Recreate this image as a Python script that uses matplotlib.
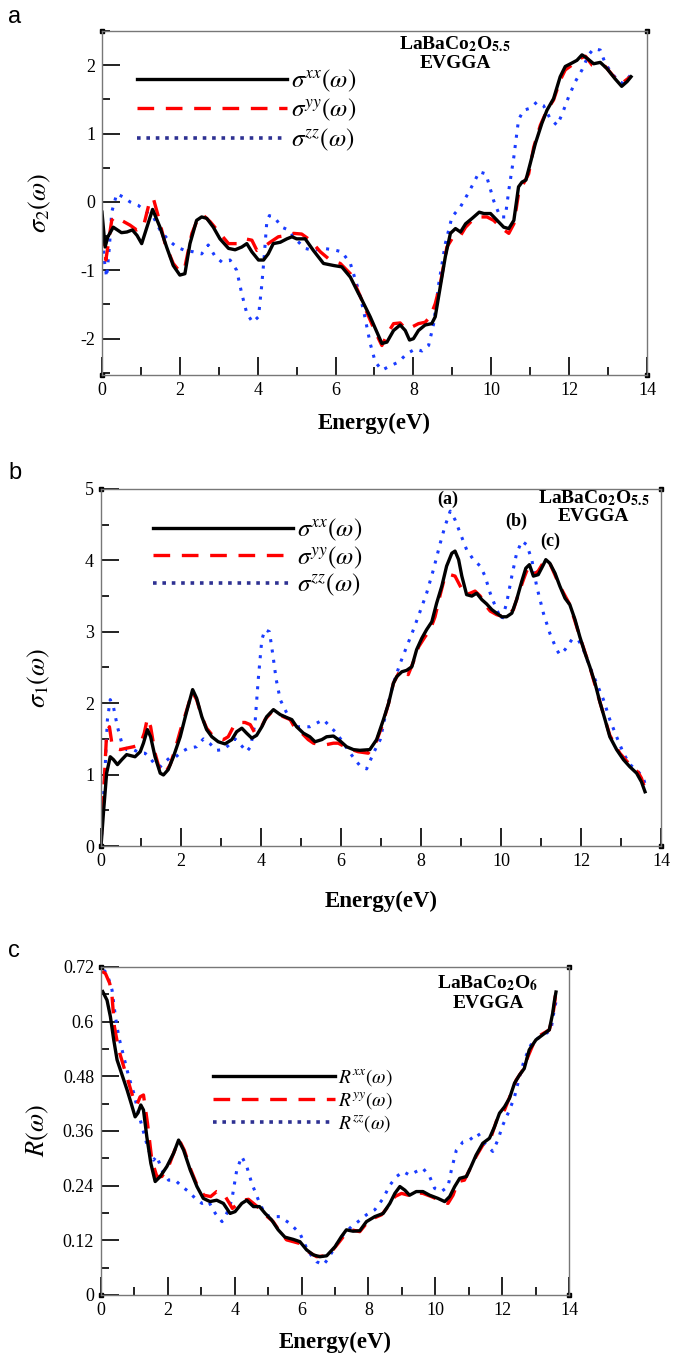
import matplotlib
matplotlib.use("Agg")
import matplotlib.pyplot as plt
from matplotlib.lines import Line2D
from matplotlib.ticker import MultipleLocator

plt.rcParams['font.family'] = ['Liberation Serif', 'DejaVu Serif']
plt.rcParams['mathtext.fontset'] = 'stix'
plt.rcParams['axes.unicode_minus'] = False

# ---------------- panel a : sigma_2 ----------------
a_xx_e = [0.0, 0.08, 0.15, 0.29, 0.5, 0.64, 0.78, 0.9, 1.02, 1.3, 1.49, 1.66, 1.83, 2.0, 2.13, 2.26, 2.43, 2.56,
          2.69, 2.86, 3.03, 3.25, 3.42, 3.59, 3.72, 3.85, 4.02, 4.15, 4.27, 4.4, 4.58, 4.75, 4.88, 5.0, 5.22,
          5.43, 5.69, 5.95, 6.16, 6.38, 6.59, 6.63, 6.89, 7.19, 7.32, 7.49, 7.66, 7.79, 7.9, 8.0, 8.13, 8.3,
          8.47, 8.56, 8.69, 8.82, 8.95, 9.08, 9.21, 9.34, 9.51, 9.69, 9.81, 9.98, 10.15, 10.32, 10.45, 10.58,
          10.7, 10.79, 10.89, 11.0, 11.13, 11.3, 11.43, 11.6, 11.77, 11.9, 12.07, 12.2, 12.33, 12.46, 12.63,
          12.8, 12.97, 13.18, 13.35, 13.49, 13.59]
a_xx = [-0.15, -0.66, -0.51, -0.37, -0.45, -0.44, -0.41, -0.49, -0.61, -0.11, -0.37, -0.66, -0.93, -1.07, -1.05,
        -0.61, -0.27, -0.22, -0.24, -0.37, -0.54, -0.68, -0.70, -0.66, -0.61, -0.73, -0.85, -0.85, -0.76, -0.61,
        -0.59, -0.54, -0.51, -0.54, -0.54, -0.71, -0.90, -0.93, -0.95, -1.10, -1.34, -1.38, -1.68, -2.07, -2.05,
        -1.88, -1.80, -1.88, -2.02, -2.0, -1.88, -1.80, -1.78, -1.68, -1.24, -0.80, -0.46, -0.39, -0.44, -0.32,
        -0.24, -0.15, -0.17, -0.17, -0.27, -0.37, -0.39, -0.27, 0.22, 0.29, 0.32, 0.56, 0.85, 1.15, 1.34, 1.51,
        1.83, 1.98, 2.03, 2.07, 2.15, 2.10, 2.02, 2.04, 1.95, 1.80, 1.69, 1.76, 1.83]

a_yy_e = [0.0, 0.1, 0.25, 0.33, 0.5, 0.72, 0.89, 1.06, 1.23, 1.32, 1.45, 1.62, 1.83, 2.0, 2.13, 2.31, 2.48, 2.61,
          2.78, 3.03, 3.25, 3.47, 3.68, 3.85, 3.98, 4.15, 4.32, 4.53, 4.75, 4.92, 5.13, 5.35, 5.61, 5.86, 6.12,
          6.38, 6.59, 6.8, 7.02, 7.19, 7.36, 7.49, 7.66, 7.79, 7.96, 8.13, 8.3, 8.43, 8.56, 8.69, 8.86, 8.99,
          9.16, 9.34, 9.51, 9.69, 9.89, 10.06, 10.28, 10.45, 10.58, 10.7, 10.83, 10.96, 11.09, 11.26, 11.43,
          11.6, 11.77, 11.9, 12.07, 12.29, 12.42, 12.59, 12.76, 12.93, 13.15, 13.35, 13.57]
a_yy = [-0.40, -0.85, -0.27, -0.22, -0.27, -0.34, -0.41, -0.37, 0.02, 0.05, -0.22, -0.61, -0.90, -1.02, -0.95,
        -0.46, -0.22, -0.20, -0.29, -0.46, -0.61, -0.61, -0.54, -0.56, -0.71, -0.66, -0.59, -0.51, -0.49, -0.46,
        -0.47, -0.56, -0.73, -0.85, -0.90, -1.05, -1.32, -1.61, -1.90, -2.10, -1.90, -1.78, -1.77, -1.85, -1.83,
        -1.78, -1.76, -1.68, -1.49, -1.20, -0.66, -0.54, -0.54, -0.37, -0.27, -0.22, -0.22, -0.27, -0.39, -0.46,
        -0.32, 0.12, 0.27, 0.41, 0.80, 1.12, 1.34, 1.49, 1.78, 1.93, 2.00, 2.10, 2.13, 2.00, 1.98, 1.98, 1.83,
        1.73, 1.83]

a_zz_e = [0.0, 0.07, 0.12, 0.19, 0.25, 0.38, 0.55, 0.72, 0.93, 1.15, 1.32, 1.49, 1.71, 1.92, 2.13, 2.35, 2.56,
          2.73, 2.91, 3.08, 3.29, 3.46, 3.59, 3.72, 3.87, 4.02, 4.1, 4.16, 4.23, 4.3, 4.45, 4.62, 4.79, 4.96,
          5.22, 5.43, 5.69, 5.95, 6.16, 6.38, 6.59, 6.72, 6.89, 7.02, 7.19, 7.4, 7.62, 7.83, 8.05, 8.22, 8.39,
          8.52, 8.65, 8.82, 8.99, 9.21, 9.38, 9.56, 9.69, 9.86, 9.95, 10.06, 10.23, 10.36, 10.45, 10.58, 10.7,
          10.83, 11.0, 11.17, 11.34, 11.51, 11.69, 11.81, 11.99, 12.16, 12.33, 12.5, 12.63, 12.8, 12.93, 13.1,
          13.27, 13.4, 13.57]
a_zz = [-0.41, -0.90, -1.10, -0.66, -0.15, 0.12, 0.07, 0.0, -0.05, -0.15, -0.22, -0.41, -0.56, -0.66, -0.71,
        -0.73, -0.76, -0.63, -0.80, -0.88, -0.85, -1.0, -1.34, -1.63, -1.76, -1.68, -1.24, -0.85, -0.32, -0.20,
        -0.24, -0.37, -0.41, -0.54, -0.68, -0.71, -0.68, -0.70, -0.73, -0.90, -1.29, -1.59, -2.07, -2.34, -2.46,
        -2.40, -2.34, -2.22, -2.15, -2.18, -2.10, -1.78, -1.20, -0.61, -0.22, -0.07, 0.10, 0.29, 0.44, 0.41, 0.24,
        0.02, -0.22, -0.22, 0.17, 0.66, 1.20, 1.34, 1.37, 1.46, 1.41, 1.22, 1.12, 1.27, 1.54, 1.76, 1.93, 2.15,
        2.24, 2.22, 2.02, 1.88, 1.76, 1.73, 1.85]

# ---------------- panel b : sigma_1 ----------------
b_xx_e = [0.0, 0.06, 0.14, 0.23, 0.31, 0.41, 0.52, 0.64, 0.85, 0.98, 1.06, 1.16, 1.24, 1.35, 1.48, 1.56, 1.68,
          1.81, 1.98, 2.13, 2.29, 2.39, 2.52, 2.64, 2.77, 2.93, 3.1, 3.27, 3.39, 3.52, 3.64, 3.77, 3.89, 4.02,
          4.14, 4.31, 4.48, 4.64, 4.77, 4.89, 5.06, 5.22, 5.35, 5.52, 5.64, 5.81, 5.98, 6.14, 6.31, 6.47, 6.72,
          6.89, 7.06, 7.19, 7.31, 7.39, 7.52, 7.64, 7.77, 7.89, 8.02, 8.14, 8.27, 8.39, 8.52, 8.64, 8.77, 8.85,
          8.94, 9.02, 9.14, 9.27, 9.39, 9.52, 9.64, 9.77, 9.89, 10.02, 10.14, 10.27, 10.39, 10.52, 10.62, 10.71,
          10.81, 10.93, 11.06, 11.12, 11.22, 11.35, 11.47, 11.6, 11.72, 11.85, 11.97, 12.1, 12.22, 12.35, 12.47,
          12.6, 12.72, 12.89, 13.06, 13.22, 13.39, 13.51, 13.6]
b_xx = [0.0, 0.46, 1.02, 1.25, 1.21, 1.14, 1.21, 1.28, 1.25, 1.32, 1.44, 1.63, 1.53, 1.25, 1.02, 0.995, 1.07,
        1.25, 1.53, 1.86, 2.19, 2.07, 1.81, 1.63, 1.53, 1.46, 1.43, 1.49, 1.60, 1.65, 1.58, 1.51, 1.55, 1.67,
        1.81, 1.91, 1.84, 1.80, 1.77, 1.67, 1.58, 1.53, 1.46, 1.49, 1.53, 1.54, 1.47, 1.39, 1.35, 1.34, 1.35,
        1.49, 1.77, 2.0, 2.28, 2.37, 2.44, 2.46, 2.51, 2.75, 2.91, 3.03, 3.14, 3.40, 3.64, 3.92, 4.10, 4.13,
        4.01, 3.78, 3.52, 3.50, 3.54, 3.45, 3.39, 3.31, 3.26, 3.21, 3.21, 3.26, 3.45, 3.71, 3.89, 3.94, 3.78,
        3.80, 3.94, 4.01, 3.96, 3.82, 3.64, 3.47, 3.38, 3.17, 2.93, 2.70, 2.51, 2.28, 2.02, 1.77, 1.53, 1.35,
        1.21, 1.11, 1.02, 0.90, 0.76]

b_yy_e = [0.0, 0.06, 0.14, 0.21, 0.27, 0.35, 0.48, 0.64, 0.81, 0.98, 1.08, 1.16, 1.24, 1.35, 1.48, 1.6, 1.73,
          1.85, 1.99, 2.13, 2.28, 2.39, 2.52, 2.64, 2.77, 2.93, 3.06, 3.18, 3.31, 3.43, 3.6, 3.73, 3.85, 3.98,
          4.1, 4.27, 4.39, 4.56, 4.73, 4.85, 5.02, 5.18, 5.31, 5.48, 5.64, 5.81, 5.93, 6.1, 6.27, 6.43, 6.68,
          6.85, 7.02, 7.19, 7.31, 7.44, 7.56, 7.68, 7.81, 7.94, 8.1, 8.23, 8.35, 8.48, 8.6, 8.73, 8.85, 8.98,
          9.1, 9.23, 9.35, 9.48, 9.6, 9.73, 9.89, 10.06, 10.18, 10.31, 10.43, 10.56, 10.64, 10.73, 10.81, 10.93,
          11.1, 11.22, 11.47, 11.72, 11.97, 12.22, 12.47, 12.72, 12.97, 13.22, 13.43, 13.51, 13.64]
b_yy = [0.07, 0.69, 1.58, 1.67, 1.44, 1.37, 1.35, 1.37, 1.39, 1.42, 1.58, 1.79, 1.67, 1.30, 1.04, 1.02, 1.14,
        1.35, 1.63, 1.88, 2.16, 2.05, 1.81, 1.65, 1.56, 1.51, 1.49, 1.53, 1.67, 1.73, 1.73, 1.70, 1.58, 1.63,
        1.77, 1.88, 1.86, 1.81, 1.77, 1.65, 1.58, 1.49, 1.44, 1.42, 1.42, 1.44, 1.44, 1.39, 1.35, 1.32, 1.30,
        1.42, 1.67, 2.0, 2.28, 2.42, 2.47, 2.40, 2.58, 2.79, 2.93, 3.03, 3.21, 3.52, 3.78, 3.80, 3.78, 3.64,
        3.52, 3.54, 3.57, 3.50, 3.38, 3.29, 3.24, 3.21, 3.24, 3.31, 3.52, 3.73, 3.85, 3.92, 3.80, 3.85, 4.01,
        3.96, 3.64, 3.38, 2.93, 2.51, 2.02, 1.55, 1.30, 1.14, 1.03, 0.95, 0.74]

b_zz_e = [0.0, 0.04, 0.1, 0.16, 0.23, 0.31, 0.41, 0.52, 0.64, 0.81, 0.98, 1.1, 1.23, 1.35, 1.48, 1.6, 1.73,
          1.85, 2.02, 2.18, 2.39, 2.56, 2.73, 2.89, 3.06, 3.23, 3.35, 3.52, 3.64, 3.74, 3.85, 3.93, 4.02, 4.1,
          4.21, 4.29, 4.38, 4.48, 4.6, 4.73, 4.89, 5.06, 5.22, 5.39, 5.56, 5.73, 5.89, 6.06, 6.23, 6.35, 6.48,
          6.64, 6.81, 6.98, 7.14, 7.31, 7.48, 7.64, 7.81, 7.98, 8.14, 8.31, 8.48, 8.6, 8.73, 8.85, 8.98, 9.14,
          9.31, 9.48, 9.6, 9.73, 9.89, 10.02, 10.14, 10.27, 10.39, 10.52, 10.64, 10.77, 10.89, 11.06, 11.22,
          11.39, 11.47, 11.6, 11.77, 11.93, 12.06, 12.22, 12.39, 12.56, 12.72, 12.89, 13.06, 13.22, 13.39,
          13.56, 13.62]
b_zz = [0.0, 0.46, 1.07, 1.77, 2.05, 1.95, 1.67, 1.44, 1.35, 1.35, 1.30, 1.30, 1.23, 1.14, 1.11, 1.18, 1.24,
        1.24, 1.32, 1.37, 1.39, 1.50, 1.43, 1.34, 1.35, 1.43, 1.50, 1.40, 1.32, 1.39, 1.72, 2.33, 2.89, 3.03,
        3.0, 2.70, 2.33, 2.05, 1.91, 1.77, 1.67, 1.67, 1.67, 1.72, 1.77, 1.67, 1.58, 1.44, 1.30, 1.21, 1.12,
        1.08, 1.30, 1.49, 1.91, 2.28, 2.56, 2.79, 3.03, 3.29, 3.54, 3.87, 4.24, 4.48, 4.69, 4.57, 4.38, 4.15,
        4.01, 3.92, 3.78, 3.54, 3.31, 3.17, 3.40, 3.78, 4.10, 4.27, 4.22, 4.01, 3.64, 3.26, 2.98, 2.75, 2.68,
        2.75, 2.89, 2.89, 2.75, 2.51, 2.28, 2.05, 1.77, 1.53, 1.30, 1.14, 1.07, 0.95, 0.83]

# ---------------- panel c : reflectivity ----------------
c_xx_e = [0.05, 0.18, 0.28, 0.38, 0.48, 0.63, 0.78, 0.9, 1.02, 1.1, 1.19, 1.27, 1.37, 1.49, 1.62, 1.77, 1.97,
          2.17, 2.32, 2.47, 2.67, 2.87, 3.06, 3.26, 3.46, 3.66, 3.86, 4.01, 4.21, 4.36, 4.56, 4.74, 4.91, 5.1,
          5.3, 5.5, 5.75, 5.95, 6.15, 6.35, 6.55, 6.75, 7.0, 7.19, 7.34, 7.54, 7.74, 7.94, 8.19, 8.44, 8.64,
          8.79, 8.94, 9.09, 9.23, 9.43, 9.63, 9.83, 10.08, 10.28, 10.43, 10.58, 10.73, 10.93, 11.07, 11.22,
          11.42, 11.62, 11.77, 11.92, 12.07, 12.22, 12.37, 12.52, 12.66, 12.81, 13.01, 13.21, 13.41, 13.51,
          13.56, 13.61]
c_xx = [0.666, 0.647, 0.611, 0.560, 0.516, 0.483, 0.450, 0.421, 0.391, 0.399, 0.417, 0.406, 0.347, 0.289,
        0.249, 0.260, 0.282, 0.311, 0.340, 0.318, 0.274, 0.238, 0.212, 0.205, 0.208, 0.201, 0.179, 0.183,
        0.201, 0.208, 0.194, 0.194, 0.179, 0.165, 0.143, 0.127, 0.122, 0.117, 0.099, 0.088, 0.084, 0.086,
        0.106, 0.128, 0.143, 0.140, 0.141, 0.161, 0.172, 0.179, 0.201, 0.223, 0.238, 0.230, 0.219, 0.227,
        0.227, 0.219, 0.212, 0.205, 0.216, 0.238, 0.256, 0.260, 0.282, 0.307, 0.333, 0.344, 0.369, 0.399,
        0.413, 0.432, 0.465, 0.483, 0.497, 0.538, 0.560, 0.571, 0.582, 0.618, 0.644, 0.665]

c_yy_e = [0.03, 0.13, 0.26, 0.33, 0.4, 0.53, 0.68, 0.83, 0.98, 1.07, 1.17, 1.27, 1.39, 1.52, 1.67, 1.82, 2.02,
          2.19, 2.34, 2.49, 2.69, 2.89, 3.08, 3.28, 3.46, 3.66, 3.81, 3.93, 4.06, 4.24, 4.41, 4.56, 4.74, 4.91,
          5.15, 5.35, 5.55, 5.75, 5.95, 6.2, 6.45, 6.7, 6.85, 7.09, 7.29, 7.49, 7.74, 7.94, 8.14, 8.39, 8.59,
          8.79, 8.99, 9.19, 9.39, 9.63, 9.88, 10.13, 10.38, 10.53, 10.68, 10.87, 11.02, 11.22, 11.42, 11.67,
          11.87, 12.07, 12.27, 12.42, 12.62, 12.77, 12.96, 13.16, 13.41, 13.51, 13.58, 13.61]
c_yy = [0.710, 0.706, 0.684, 0.655, 0.589, 0.538, 0.501, 0.465, 0.428, 0.417, 0.435, 0.439, 0.377, 0.296,
        0.260, 0.260, 0.282, 0.315, 0.340, 0.318, 0.274, 0.238, 0.219, 0.216, 0.227, 0.223, 0.205, 0.190,
        0.198, 0.208, 0.210, 0.201, 0.190, 0.176, 0.161, 0.139, 0.121, 0.117, 0.113, 0.095, 0.084, 0.086,
        0.091, 0.113, 0.132, 0.143, 0.139, 0.157, 0.168, 0.176, 0.194, 0.216, 0.223, 0.219, 0.225, 0.223,
        0.216, 0.208, 0.201, 0.219, 0.249, 0.252, 0.274, 0.304, 0.329, 0.347, 0.391, 0.406, 0.443, 0.472,
        0.494, 0.523, 0.556, 0.571, 0.582, 0.611, 0.647, 0.680]

c_zz_e = [0.08, 0.18, 0.33, 0.43, 0.53, 0.68, 0.83, 0.98, 1.12, 1.27, 1.42, 1.57, 1.67, 1.82, 2.02, 2.22, 2.42,
          2.62, 2.82, 3.02, 3.22, 3.42, 3.62, 3.76, 3.91, 4.06, 4.21, 4.36, 4.51, 4.71, 4.91, 5.1, 5.35, 5.65,
          5.95, 6.2, 6.45, 6.65, 6.8, 7.0, 7.24, 7.49, 7.69, 7.94, 8.19, 8.44, 8.64, 8.84, 9.04, 9.23, 9.43,
          9.63, 9.83, 9.98, 10.18, 10.38, 10.48, 10.63, 10.83, 11.02, 11.27, 11.47, 11.72, 11.87, 12.02, 12.22,
          12.37, 12.52, 12.66, 12.86, 13.06, 13.26, 13.46, 13.54, 13.61]
c_zz = [0.713, 0.706, 0.669, 0.611, 0.567, 0.523, 0.479, 0.443, 0.399, 0.358, 0.318, 0.296, 0.305, 0.274,
        0.252, 0.252, 0.238, 0.227, 0.212, 0.201, 0.205, 0.179, 0.161, 0.179, 0.208, 0.274, 0.304, 0.282,
        0.245, 0.208, 0.176, 0.172, 0.172, 0.157, 0.135, 0.095, 0.073, 0.066, 0.080, 0.106, 0.132, 0.150,
        0.161, 0.176, 0.187, 0.212, 0.241, 0.260, 0.271, 0.263, 0.271, 0.278, 0.260, 0.234, 0.227, 0.238,
        0.274, 0.318, 0.336, 0.340, 0.355, 0.333, 0.315, 0.340, 0.373, 0.406, 0.435, 0.479, 0.516, 0.549,
        0.563, 0.571, 0.582, 0.618, 0.644]

sig_labels = [r'$\sigma^{xx}(\omega)$', r'$\sigma^{yy}(\omega)$', r'$\sigma^{zz}(\omega)$']
r_labels = [r'$R^{xx}(\omega)$', r'$R^{yy}(\omega)$', r'$R^{zz}(\omega)$']

# line styles
BLK = dict(color='black', lw=2.4, ls='-')
RED = dict(color='#ff0000', lw=2.4, ls=(0, (5, 3.5)))
BLU = dict(color='#1a3cff', lw=2.2, ls=(0, (1, 2.4)))
BLU_LEG = dict(color='#2e3192', lw=2.6, ls=(0, (1, 1.6)))


def style_axes(ax, xmax, ymin, ymax, ymaj, ymin_step):
    ax.set_xlim(0, xmax)
    ax.set_ylim(ymin, ymax)
    ax.xaxis.set_major_locator(MultipleLocator(2))
    ax.xaxis.set_minor_locator(MultipleLocator(1))
    ax.yaxis.set_major_locator(MultipleLocator(ymaj))
    ax.yaxis.set_minor_locator(MultipleLocator(ymin_step))
    ax.tick_params(which='both', direction='in', top=False, right=False, labelsize=13, width=1.4, color='#222222')
    ax.tick_params(which='major', length=13, pad=5)
    ax.tick_params(which='minor', length=6)
    for s in ax.spines.values():
        s.set_color('#777777')
        s.set_linewidth(1.0)
    # small square markers at the frame corners
    ax.plot([0, 1, 0, 1], [0, 0, 1, 1], 's', color='black', ms=3.5, transform=ax.transAxes, clip_on=False)
    ax.set_xlabel('Energy(eV)', fontsize=16.5, fontweight='bold', labelpad=8)


def add_legend(ax, labels, anchor, hlen, fs, spacing):
    handles = [Line2D([], [], **BLK), Line2D([], [], **RED), Line2D([], [], **BLU_LEG)]
    ax.legend(handles, labels, loc='upper left', bbox_to_anchor=anchor, frameon=False, handlelength=hlen,
              handletextpad=0.15, borderpad=0, borderaxespad=0, fontsize=fs, labelspacing=spacing)


fig = plt.figure(figsize=(6.84, 13.56), dpi=100)

# panel a
ax1 = fig.add_axes([0.1491, 0.7235, 0.7968, 0.2537])
ax1.plot(a_zz_e, a_zz, **BLU)
ax1.plot(a_yy_e, a_yy, **RED)
ax1.plot(a_xx_e, a_xx, **BLK)
style_axes(ax1, 14, -2.53, 2.5, 1, 0.5)
ax1.xaxis.labelpad = 10
ax1.set_ylabel(r'$\sigma_2(\omega)$', fontsize=19)
ax1.yaxis.set_label_coords(-0.09, 0.5)
add_legend(ax1, sig_labels, (0.064, 0.893), 6.0, 18, 0.13)
ax1.text(0.648, 0.962, r'LaBaCo$_{\mathbf{2}}$O$_{\mathbf{5.5}}$', transform=ax1.transAxes, ha='center', va='center',
         fontsize=14, fontweight='bold')
ax1.text(0.648, 0.905, 'EVGGA', transform=ax1.transAxes, ha='center', va='center', fontsize=14, fontweight='bold')

# panel b
ax2 = fig.add_axes([0.1477, 0.3761, 0.8187, 0.2633])
ax2.plot(b_zz_e, b_zz, **BLU)
ax2.plot(b_yy_e, b_yy, **RED)
ax2.plot(b_xx_e, b_xx, **BLK)
style_axes(ax2, 14, 0, 5, 1, 0.5)
ax2.xaxis.labelpad = 15
ax2.set_ylabel(r'$\sigma_1(\omega)$', fontsize=19)
ax2.yaxis.set_label_coords(-0.087, 0.47)
add_legend(ax2, sig_labels, (0.093, 0.921), 5.6, 18, 0.04)
ax2.text(0.880, 0.975, r'LaBaCo$_{\mathbf{2}}$O$_{\mathbf{5.5}}$', transform=ax2.transAxes, ha='center', va='center',
         fontsize=14, fontweight='bold')
ax2.text(0.880, 0.922, 'EVGGA', transform=ax2.transAxes, ha='center', va='center', fontsize=14, fontweight='bold')
for lab, ex, ey in [('(a)', 8.68, 4.85), ('(b)', 10.38, 4.54), ('(c)', 11.22, 4.26)]:
    ax2.text(ex, ey, lab, ha='center', va='center', fontsize=13, fontweight='bold')

# panel c
ax3 = fig.add_axes([0.1477, 0.0450, 0.6842, 0.2419])
ax3.plot(c_zz_e, c_zz, **BLU)
ax3.plot(c_yy_e, c_yy, **RED)
ax3.plot(c_xx_e, c_xx, **BLK)
style_axes(ax3, 14, 0, 0.72, 0.12, 0.06)
ax3.xaxis.labelpad = 9
ax3.yaxis.set_major_formatter(lambda v, p: '0' if abs(v) < 1e-9 else f'{v:g}')
ax3.set_ylabel(r'$R(\omega)$', fontsize=19)
ax3.yaxis.set_label_coords(-0.107, 0.5)
add_legend(ax3, r_labels, (0.239, 0.695), 6.3, 14, 0.12)
ax3.text(0.827, 0.951, r'LaBaCo$_{\mathbf{2}}$O$_{\mathbf{6}}$', transform=ax3.transAxes, ha='center', va='center',
         fontsize=14, fontweight='bold')
ax3.text(0.827, 0.890, 'EVGGA', transform=ax3.transAxes, ha='center', va='center', fontsize=14, fontweight='bold')

# panel letters
for lab, yy in [('a', 1 - 17 / 1356), ('b', 1 - 473 / 1356), ('c', 1 - 951 / 1356)]:
    fig.text(0.012, yy, lab, ha='left', va='center', fontsize=17, family=['Liberation Sans', 'DejaVu Sans'])

fig.savefig('out.png', dpi=100)
